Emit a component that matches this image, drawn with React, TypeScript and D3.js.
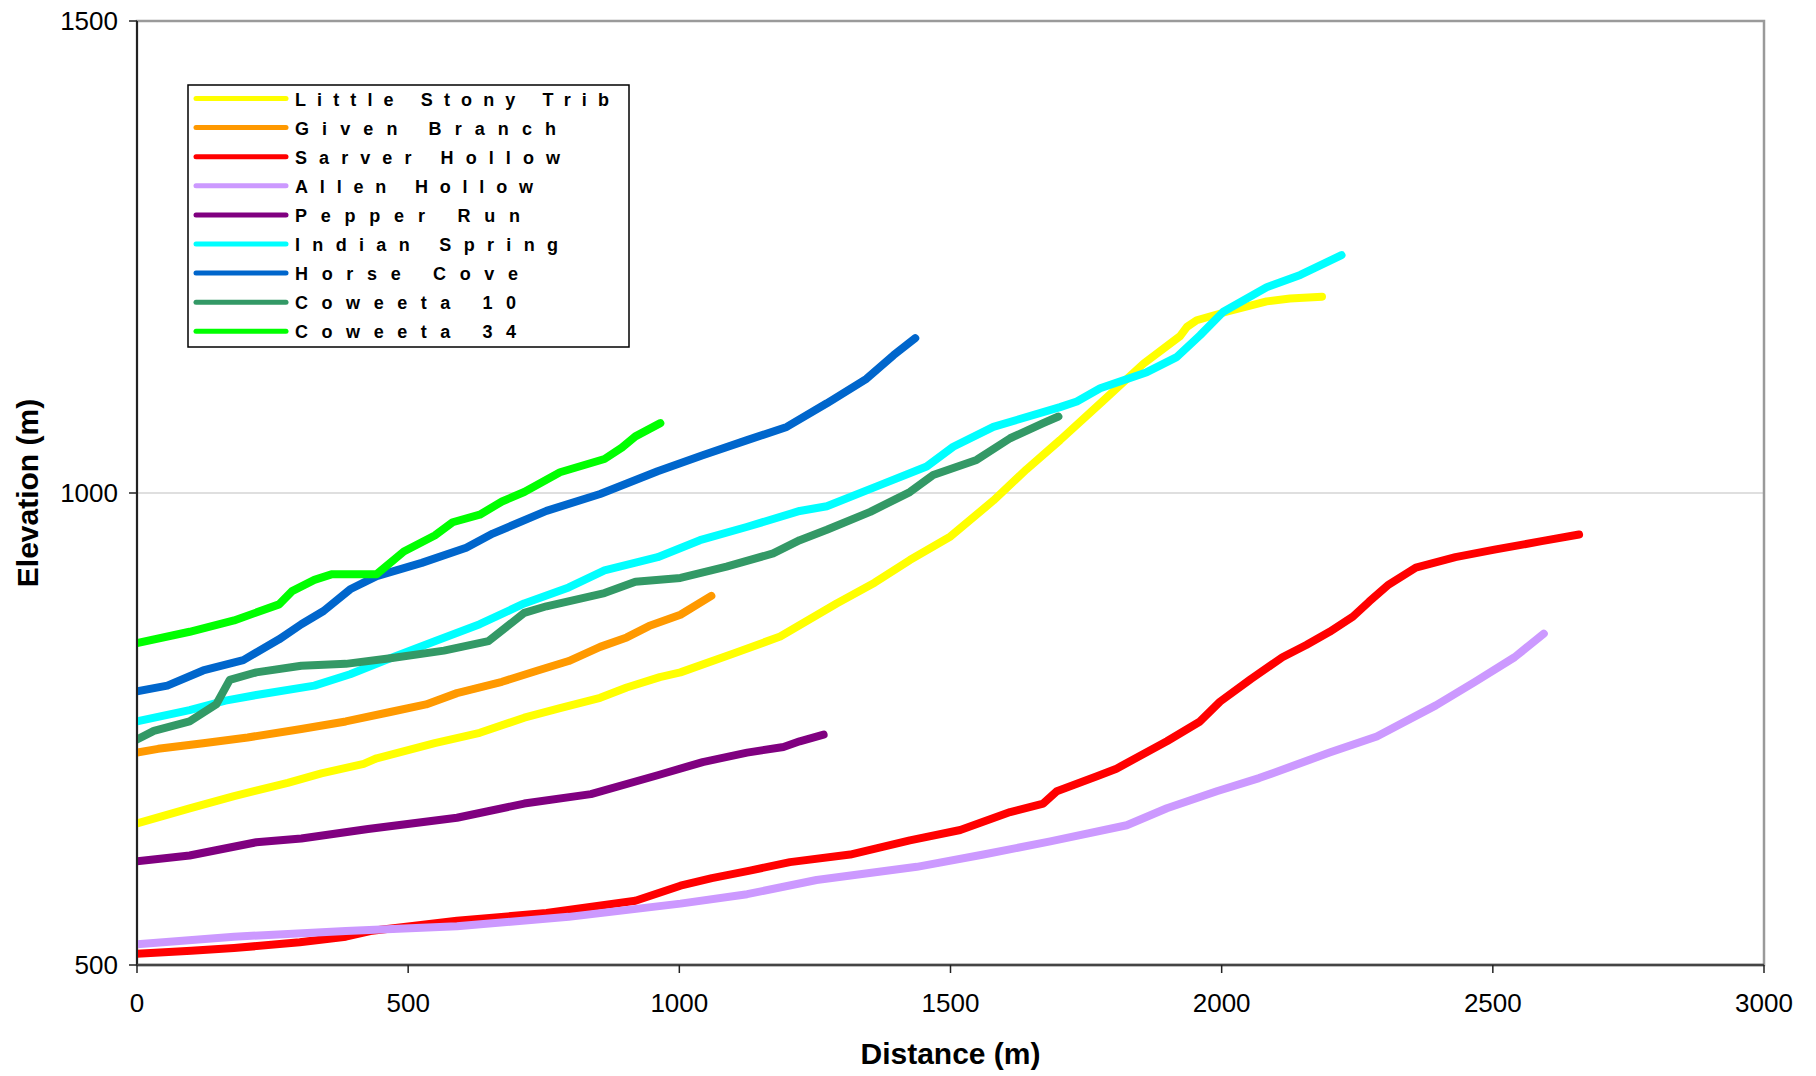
import React from 'react';
import * as d3 from 'd3';

type Pt = [number, number];

const seriesNames = [
  'Little Stony Trib',
  'Given Branch',
  'Sarver Hollow',
  'Allen Hollow',
  'Pepper Run',
  'Indian Spring',
  'Horse Cove',
  'Coweeta 10',
  'Coweeta 34',
];

const seriesColors = [
  '#FFFF00',
  '#FF9900',
  '#FF0000',
  '#CC99FF',
  '#800080',
  '#00FFFF',
  '#0066CC',
  '#339966',
  '#00FF00',
];

// [distance (m), elevation (m)]
const littleStony: Pt[] = [
  [0, 650], [97, 666], [179, 679], [278, 693], [340, 703], [418, 713], [442, 719],
  [549, 735], [632, 746], [714, 762], [780, 772], [854, 783], [903, 794], [964, 805],
  [1002, 810], [1100, 830], [1186, 848], [1290, 883], [1360, 905], [1425, 929],
  [1500, 954], [1579, 992], [1640, 1025], [1702, 1056], [1780, 1097], [1856, 1137],
  [1923, 1166], [1936, 1176], [1954, 1183], [2009, 1192], [2083, 1203], [2126, 1206],
  [2185, 1208],
];

const givenBranch: Pt[] = [
  [0, 725], [39, 729], [122, 735], [204, 741], [303, 750], [385, 758], [467, 768],
  [533, 776], [590, 788], [673, 800], [739, 812], [796, 822], [854, 837], [903, 847],
  [944, 859], [1002, 871], [1059, 891],
];

const sarverHollow: Pt[] = [
  [0, 512], [100, 515], [179, 518], [300, 524], [385, 530], [430, 536], [590, 547],
  [755, 555], [919, 568], [1002, 584], [1060, 592], [1130, 600], [1204, 609],
  [1315, 617], [1425, 632], [1518, 643], [1610, 662], [1671, 671], [1696, 684],
  [1770, 700], [1806, 708], [1899, 737], [1960, 758], [1997, 779], [2054, 803],
  [2112, 826], [2156, 839], [2199, 853], [2242, 869], [2272, 885], [2308, 903],
  [2358, 921], [2431, 932], [2503, 940], [2590, 949], [2659, 956],
];

const allenHollow: Pt[] = [
  [0, 522], [179, 530], [385, 536], [590, 541], [796, 551], [1002, 565], [1125, 575],
  [1253, 590], [1438, 604], [1561, 617], [1684, 631], [1825, 648], [1899, 666],
  [1991, 684], [2069, 698], [2199, 725], [2286, 742], [2395, 775], [2467, 800],
  [2540, 826], [2594, 851],
];

const pepperRun: Pt[] = [
  [0, 610], [97, 616], [220, 630], [303, 634], [426, 644], [590, 656], [714, 671],
  [837, 681], [960, 701], [1043, 715], [1125, 725], [1192, 731], [1222, 737], [1266, 744],
];

const indianSpring: Pt[] = [
  [0, 758], [97, 770], [163, 780], [220, 786], [327, 796], [393, 808], [467, 825],
  [549, 843], [632, 861], [714, 883], [796, 900], [862, 918], [960, 932], [1038, 950],
  [1124, 964], [1222, 981], [1272, 986], [1364, 1007], [1456, 1028], [1505, 1049],
  [1579, 1070], [1702, 1091], [1733, 1097], [1776, 1111], [1862, 1128], [1917, 1144],
  [1960, 1167], [2003, 1192], [2083, 1218], [2145, 1231], [2221, 1252],
];

const horseCove: Pt[] = [
  [0, 790], [56, 796], [122, 812], [196, 823], [262, 845], [303, 861], [344, 875],
  [393, 898], [442, 912], [525, 926], [607, 942], [656, 957], [755, 981], [854, 999],
  [903, 1010], [960, 1023], [1043, 1040], [1125, 1056], [1198, 1070], [1272, 1095],
  [1345, 1121], [1395, 1146], [1435, 1164],
];

const coweeta10: Pt[] = [
  [0, 739], [31, 748], [97, 758], [146, 776], [171, 802], [220, 810], [303, 817],
  [385, 819], [467, 825], [566, 833], [648, 843], [714, 873], [755, 880], [862, 894],
  [919, 906], [1002, 910], [1087, 922], [1173, 936], [1222, 950], [1272, 961],
  [1352, 980], [1425, 1001], [1468, 1019], [1548, 1035], [1610, 1058], [1671, 1074],
  [1699, 1081],
];

const coweeta34: Pt[] = [
  [0, 841], [97, 853], [179, 865], [262, 882], [286, 896], [327, 908], [360, 914],
  [442, 914], [492, 938], [549, 955], [582, 969], [632, 977], [673, 991], [714, 1001],
  [780, 1022], [862, 1036], [894, 1048], [919, 1060], [965, 1074],
];

const seriesData = [
  littleStony, givenBranch, sarverHollow, allenHollow, pepperRun,
  indianSpring, horseCove, coweeta10, coweeta34,
];

const xTicks = [0, 500, 1000, 1500, 2000, 2500, 3000];
const yTicks = [500, 1000, 1500];

// legend text widths, matching the spaced-out lettering of the original
const legendTextWidth = [314, 261, 265, 238, 225, 263, 223, 221, 221];

const W = 1816;
const H = 1076;
const margin = { top: 21, right: 52, bottom: 111, left: 137 };
const font = '"Liberation Sans", Arial, sans-serif';

const App: React.FC = () => {
  const x = d3.scaleLinear().domain([0, 3000]).range([margin.left, W - margin.right]);
  const y = d3.scaleLinear().domain([500, 1500]).range([H - margin.bottom, margin.top]);

  const line = d3
    .line<Pt>()
    .x(d => x(d[0]))
    .y(d => y(d[1]));

  const left = margin.left;
  const right = W - margin.right;
  const top = margin.top;
  const bottom = H - margin.bottom;

  const legX = 188;
  const legY = 85;
  const legStep = 29.1;

  return (
    <svg
      width={W}
      height={H}
      style={{ position: 'absolute', left: 0, top: 0, background: '#fff' }}
      fontFamily={font}
    >
      <defs>
        <clipPath id="plot">
          <rect x={left} y={top} width={right - left} height={bottom - top} />
        </clipPath>
      </defs>

      {/* gridlines */}
      {yTicks.map(t => (
        <line key={t} x1={left} x2={right} y1={y(t)} y2={y(t)} stroke="#c0c0c0" strokeWidth={1.2} />
      ))}

      {/* plot border */}
      <rect x={left} y={top} width={right - left} height={bottom - top} fill="none" stroke="#9a9a9a" strokeWidth={2.5} />

      {/* series */}
      <g clipPath="url(#plot)">
        {seriesData.map((d, i) => (
          <path
            key={seriesNames[i]}
            d={line(d) || ''}
            fill="none"
            stroke={seriesColors[i]}
            strokeWidth={8}
            strokeLinecap="round"
            strokeLinejoin="round"
          />
        ))}
      </g>

      {/* axes */}
      <line x1={left} x2={left} y1={top} y2={bottom} stroke="#222" strokeWidth={2} />
      <line x1={left} x2={right} y1={bottom} y2={bottom} stroke="#444" strokeWidth={2.5} />

      {yTicks.map(t => (
        <g key={t}>
          <line x1={left - 8} x2={left} y1={y(t)} y2={y(t)} stroke="#222" strokeWidth={1.5} />
          <text x={left - 19} y={y(t)} dy="0.35em" textAnchor="end" fontSize={26} fill="#000">
            {t}
          </text>
        </g>
      ))}

      {xTicks.map(t => (
        <g key={t}>
          <line x1={x(t)} x2={x(t)} y1={bottom} y2={bottom + 8} stroke="#222" strokeWidth={1.5} />
          <text x={x(t)} y={bottom + 38} dy="0.35em" textAnchor="middle" fontSize={26} fill="#000">
            {t}
          </text>
        </g>
      ))}

      {/* axis titles */}
      <text x={(left + right) / 2} y={1064} textAnchor="middle" fontSize={30} fontWeight="bold">
        Distance (m)
      </text>
      <text
        transform={`translate(38, ${(top + bottom) / 2}) rotate(-90)`}
        textAnchor="middle"
        fontSize={30}
        fontWeight="bold"
      >
        Elevation (m)
      </text>

      {/* legend */}
      <rect x={legX} y={legY} width={441} height={262} fill="#fff" stroke="#000" strokeWidth={1.5} />
      {seriesNames.map((name, i) => {
        const cy = legY + 13.5 + i * legStep;
        return (
          <g key={name}>
            <line x1={196} x2={286} y1={cy} y2={cy} stroke={seriesColors[i]} strokeWidth={5} strokeLinecap="round" />
            <text
              x={295}
              y={cy + 7}
              fontSize={18}
              fontWeight="bold"
              textLength={legendTextWidth[i]}
              lengthAdjust="spacing"
            >
              {name}
            </text>
          </g>
        );
      })}
    </svg>
  );
};

export default App;
